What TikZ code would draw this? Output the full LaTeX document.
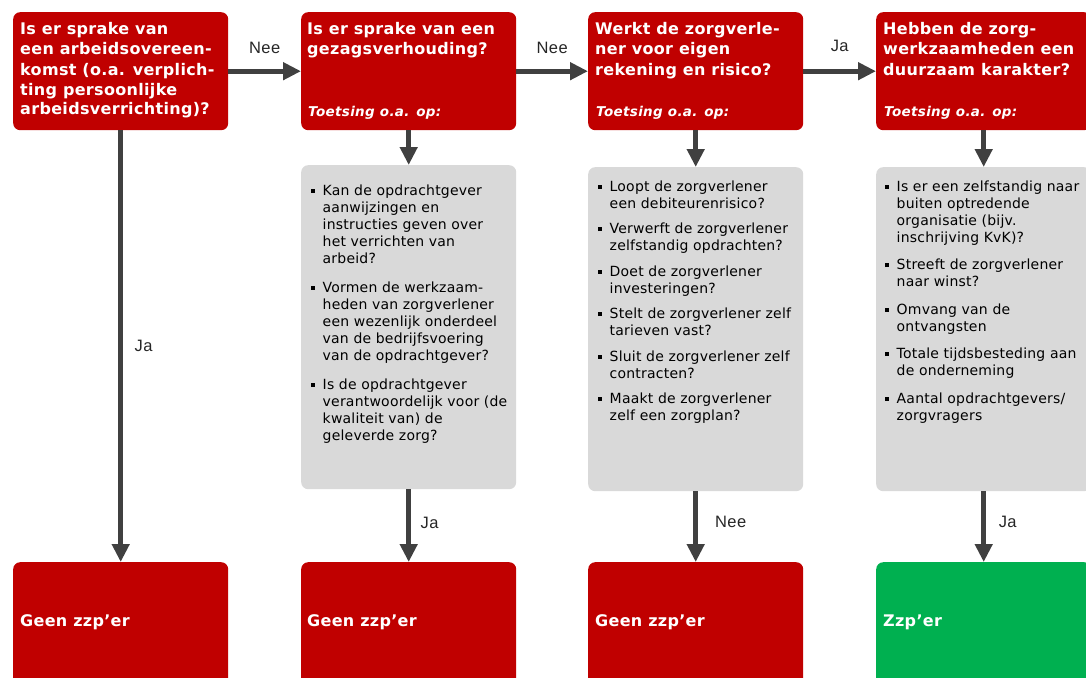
\documentclass[tikz,border=0pt]{standalone}
\usepackage{fontspec}
\setmainfont{DejaVu Sans}
\newfontfamily\tfont[LetterSpace=2]{DejaVu Sans}
\newfontfamily\ofont[LetterSpace=2.5]{DejaVu Sans}
\newfontfamily\bfont[LetterSpace=1.5]{DejaVu Sans}
\newfontfamily\lfont[LetterSpace=3]{Liberation Sans}
\usetikzlibrary{arrows.meta}
\definecolor{zred}{HTML}{C00000}
\definecolor{zgreen}{HTML}{00B050}
\definecolor{zgray}{HTML}{D9D9D9}
\definecolor{zarrow}{HTML}{404040}
\definecolor{zlabel}{HTML}{262626}
\newcommand\itm{\noindent\hangindent=11.5pt\hangafter=1\makebox[11.5pt][l]{\rule[2.5pt]{4pt}{4pt}}}
\newcommand\lst[1]{\parbox[t]{230pt}{\rightskip=0pt plus 1fil\parindent=0pt #1}}
\tikzset{
  redbox/.style={fill=zred, rounded corners=7pt, minimum width=215pt, minimum height=118pt, inner sep=0pt, anchor=north west},
  graybox/.style={fill=zgray, rounded corners=7pt, minimum width=215pt, minimum height=324pt, inner sep=0pt, anchor=north west},
  endbox/.style={rounded corners=7pt, minimum width=215pt, minimum height=130pt, inner sep=0pt, anchor=north west},
  titletext/.style={anchor=base west, inner sep=0pt, text=white, font=\tfont\bfseries\fontsize{16}{20}\selectfont},
  toets/.style={anchor=base west, inner sep=0pt, text=white, font=\ofont\bfseries\itshape\fontsize{13.5}{17}\selectfont},
  bodytext/.style={anchor=base west, inner sep=0pt, text=black, font=\bfont\fontsize{14}{17}\selectfont},
  lbl/.style={inner sep=0pt, text=zlabel, font=\lfont\fontsize{16.5}{18}\selectfont},
  arr/.style={draw=zarrow, line width=5pt, -{Triangle[length=18pt,width=17pt]}},
}
\begin{document}
\begin{tikzpicture}[x=1pt,y=-1pt]
\useasboundingbox (0,0) rectangle (1086,677);
\clip (0,0) rectangle (1086,677);
% question boxes
\node[redbox] (q1) at (13,12) {};
\node[redbox] (q2) at (301,12) {};
\node[redbox] (q3) at (588,12) {};
\node[redbox] (q4) at (876,12) {};
% criteria boxes
\node[graybox] (g2) at (301,165) {};
\node[graybox] (g3) at (588,167) {};
\node[graybox] (g4) at (876,167) {};
% outcome boxes
\node[endbox, fill=zred] (r1) at (13,562) {};
\node[endbox, fill=zred] (r2) at (301,562) {};
\node[endbox, fill=zred] (r3) at (588,562) {};
\node[endbox, fill=zgreen] (r4) at (876,562) {};
% titles
\node[titletext] (t1) at (20,35) {\parbox[t]{215pt}{\raggedright Is er sprake van\\een arbeidsovereen-\\komst (o.a. verplich-\\ting persoonlijke\\arbeidsverrichting)?}};
\node[titletext] (t2) at (307,35) {\parbox[t]{215pt}{\raggedright Is er sprake van een\\gezagsverhouding?}};
\node[titletext] (t3) at (595,35) {\parbox[t]{215pt}{\raggedright Werkt de zorgverle-\\ner voor eigen\\rekening en risico?}};
\node[titletext] (t4) at (883,35) {\parbox[t]{215pt}{\raggedright Hebben de zorg-\\werkzaamheden een\\duurzaam karakter?}};
\node[toets] (o2) at (308,116) {Toetsing o.a. op:};
\node[toets] (o3) at (596,116) {Toetsing o.a. op:};
\node[toets] (o4) at (884,116) {Toetsing o.a. op:};
% criteria
\node[bodytext] (b2) at (311,195) {\lst{\parskip=12pt
\itm Kan de opdrachtgever\\aanwijzingen en\\instructies geven over\\het verrichten van\\arbeid?\par
\itm Vormen de werkzaam-\\heden van zorgverlener\\een wezenlijk onderdeel\\van de bedrijfsvoering\\van de opdrachtgever?\par
\itm Is de opdrachtgever\\verantwoordelijk voor (de\\kwaliteit van) de\\geleverde zorg?\par}};
\node[bodytext] (b3) at (598,191) {\lst{\parskip=8.5pt
\itm Loopt de zorgverlener\\een debiteurenrisico?\par
\itm Verwerft de zorgverlener\\zelfstandig opdrachten?\par
\itm Doet de zorgverlener\\investeringen?\par
\itm Stelt de zorgverlener zelf\\tarieven vast?\par
\itm Sluit de zorgverlener zelf\\contracten?\par
\itm Maakt de zorgverlener\\zelf een zorgplan?\par}};
\node[bodytext] (b4) at (885,191) {\lst{\parskip=10.5pt
\itm Is er een zelfstandig naar\\buiten optredende\\organisatie (bijv.\\inschrijving KvK)?\par
\itm Streeft de zorgverlener\\naar winst?\par
\itm Omvang van de\\ontvangsten\par
\itm Totale tijdsbesteding aan\\de onderneming\par
\itm Aantal opdrachtgevers/\\zorgvragers\par}};
% outcomes
\node[titletext] (e1) at (20,626) {Geen zzp’er};
\node[titletext] (e2) at (307,626) {Geen zzp’er};
\node[titletext] (e3) at (595,626) {Geen zzp’er};
\node[titletext] (e4) at (883,626) {Zzp’er};
% connectors
\draw[arr] (q1.east) -- node[lbl, yshift=23pt] {Nee} (q2.west);
\draw[arr] (q2.east) -- node[lbl, yshift=23pt] {Nee} (q3.west);
\draw[arr] (q3.east) -- node[lbl, yshift=25pt] {Ja} (q4.west);
\draw[arr] (q1.south) -- node[lbl, xshift=23pt] {Ja} (r1.north);
\draw[arr] (q2.south) -- (g2.north);
\draw[arr] (q3.south) -- (g3.north);
\draw[arr] (q4.south) -- (g4.north);
\draw[arr] (g2.south) -- node[lbl, xshift=21pt, yshift=3pt] {Ja} (r2.north);
\draw[arr] (g3.south) -- node[lbl, xshift=35pt, yshift=5pt] {Nee} (r3.north);
\draw[arr] (g4.south) -- node[lbl, xshift=24pt, yshift=5pt] {Ja} (r4.north);
\end{tikzpicture}
\end{document}
